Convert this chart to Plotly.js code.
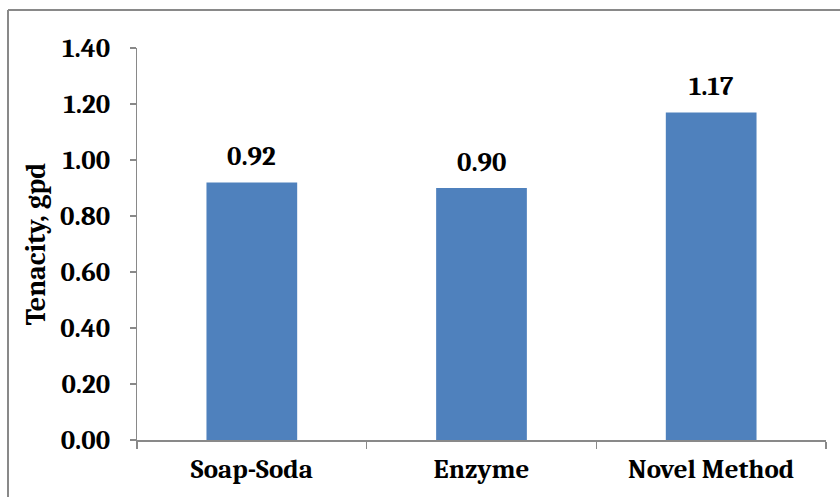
<!DOCTYPE html>
<html>
<head>
<meta charset="utf-8">
<script src="https://cdn.plot.ly/plotly-3.0.1.min.js"></script>
<style>
  html, body { margin: 0; padding: 0; background: #fff; }
  #chart { width: 840px; height: 497px; }
</style>
</head>
<body>
<div id="chart"></div>
<script>
// Fibre tenacity by degumming / extraction method
const methods = ['Soap-Soda', 'Enzyme', 'Novel Method'];
const tenacity = [0.92, 0.90, 1.17];
const yTicks = [0, 0.2, 0.4, 0.6, 0.8, 1.0, 1.2, 1.4];
const yTickLabels = ['0.00', '0.20', '0.40', '0.60', '0.80', '1.00', '1.20', '1.40'];

const FONT = 'Cambria, "DejaVu Serif", serif';
const GREY = '#898989';
const FS = 27;

const trace = {
  type: 'bar',
  x: methods,
  y: tenacity,
  marker: { color: '#4F81BD', line: { width: 0 } },
  hoverinfo: 'x+y'
};

// value labels sitting above each bar
const labels = methods.map((m, i) => ({
  x: m,
  y: tenacity[i],
  xref: 'x',
  yref: 'y',
  text: '<b>' + tenacity[i].toFixed(2) + '</b>',
  showarrow: false,
  yanchor: 'bottom',
  yshift: 8,
  font: { family: FONT, size: FS, color: '#000' }
}));

const L = 137, R = 14, T = 48, B = 57, W = 840, H = 497;
const pw = W - L - R, ph = H - T - B;
const px = v => (v - L) / pw;
const py = v => (H - B - v) / ph;

const layout = {
  width: W,
  height: H,
  margin: { l: L, r: R, t: T, b: B, pad: 0 },
  paper_bgcolor: '#fff',
  plot_bgcolor: '#fff',
  showlegend: false,
  bargap: 0.605,
  font: { family: FONT, color: '#000' },
  xaxis: {
    type: 'category',
    range: [-0.5, 2.5],
    showline: true,
    linecolor: GREY,
    linewidth: 1.5,
    ticks: 'outside',
    tickson: 'boundaries',
    ticklen: 7,
    tickwidth: 1.5,
    tickcolor: GREY,
    showgrid: false,
    zeroline: false,
    tickfont: { family: FONT, size: FS, color: '#000', weight: 'bold' },
    ticklabelstandoff: 4
  },
  yaxis: {
    range: [0, 1.4],
    tickvals: yTicks,
    ticktext: yTickLabels,
    showline: true,
    linecolor: GREY,
    linewidth: 1.5,
    ticks: 'outside',
    ticklen: 6,
    tickwidth: 1.5,
    tickcolor: GREY,
    showgrid: false,
    zeroline: false,
    tickfont: { family: FONT, size: FS, color: '#000', weight: 'bold' },
    ticklabelstandoff: 14,
    title: {
      text: '<b>Tenacity, gpd</b>',
      font: { family: FONT, size: 28, color: '#000' },
      standoff: 6
    }
  },
  annotations: labels,
  shapes: [
    // chart-area frame (left and top edges)
    { type: 'line', xref: 'paper', yref: 'paper', x0: px(8), x1: px(8), y0: py(10), y1: py(H + 2), line: { color: GREY, width: 2 } },
    { type: 'line', xref: 'paper', yref: 'paper', x0: px(8), x1: px(W + 2), y0: py(10), y1: py(10), line: { color: GREY, width: 2 } }
  ]
};

Plotly.newPlot('chart', [trace], layout, { displayModeBar: false, staticPlot: true });
</script>
</body>
</html>
